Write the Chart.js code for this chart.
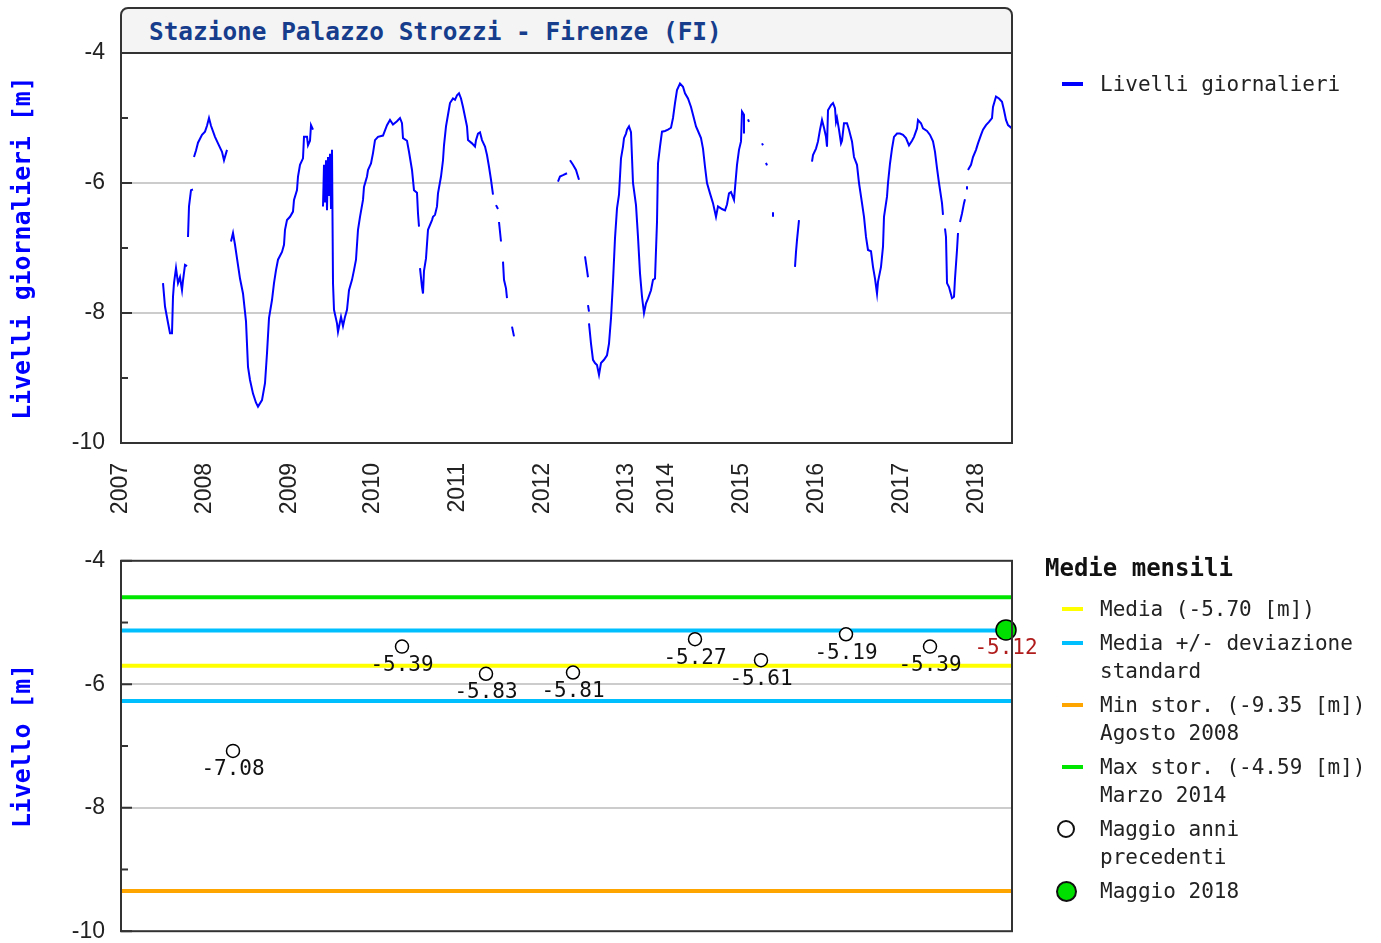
<!DOCTYPE html>
<html lang="it">
<head>
<meta charset="UTF-8">
<title>Stazione Palazzo Strozzi - Firenze (FI)</title>
<script src="https://cdn.jsdelivr.net/npm/chart.js"></script>
<style>
  body { margin: 0; background: #fff; }
  .page { position: relative; width: 1381px; height: 943px; overflow: hidden; background: #fff; }
  canvas { position: absolute; left: 0; }
  #top-chart { top: 0; }
  #month-chart { top: 531px; }
  .title-box {
    position: absolute; left: 120px; top: 7px; width: 893px; height: 47px;
    box-sizing: border-box; border: 2px solid #333; border-radius: 8px 8px 0 0;
    background: #f4f4f4; padding-left: 27px;
    font: bold 24.4px "DejaVu Sans Mono", monospace; color: #163c8c; line-height: 46px;
  }
  .leg-text { position: absolute; font: 21px "DejaVu Sans Mono", monospace; color: #222; line-height: 28px; white-space: pre; }
  .leg-head { position: absolute; font: bold 24px "DejaVu Sans Mono", monospace; color: #111; line-height: 28px; }
  .sw { position: absolute; }
</style>
</head>
<body>
<div class="page" id="page">
  <canvas id="top-chart" width="1381" height="530"></canvas>
  <canvas id="month-chart" width="1381" height="430"></canvas>
  <div class="title-box">Stazione Palazzo Strozzi - Firenze (FI)</div>
</div>
<script>
// asse x: indice delle registrazioni, anno di inizio di ogni blocco
const yearLabels = ['2007', '2008', '2009', '2010', '2011', '2012', '2013', '2014', '2015', '2016', '2017', '2018'];
const yearStartIdx = [0, 84, 169, 252, 337, 422, 506, 546, 621, 696, 781, 856];
const lastIdx = 891;

// livelli giornalieri [indice, livello m]; null = dato mancante
const dailyLevels = [
  [42,-7.54],[44,-7.90],[47,-8.15],[49,-8.31],[51,-8.31],[52,-7.75],[53,-7.54],[55,-7.31],[57,-7.54],[59,-7.45],
  [61,-7.65],[62,-7.50],[64,-7.26],[66,-7.28],[66,null],
  [67,-6.83],[68,-6.36],[70,-6.11],[72,-6.10],[72,null],
  [73,-5.60],[75,-5.50],[77,-5.38],[81,-5.26],[84,-5.21],[86,-5.12],[88,-5.00],[90,-5.12],[94,-5.29],[97,-5.39],
  [101,-5.52],[103,-5.65],[106,-5.49],[106,null],
  [110,-6.90],[112,-6.77],[114,-6.95],[116,-7.16],[119,-7.47],[122,-7.70],[125,-8.13],[127,-8.83],[129,-9.03],
  [132,-9.24],[135,-9.38],[137,-9.44],[141,-9.34],[144,-9.08],[146,-8.62],[148,-8.08],[151,-7.80],[153,-7.54],
  [155,-7.34],[157,-7.18],[161,-7.06],[163,-6.95],[164,-6.72],[166,-6.57],[169,-6.52],[172,-6.44],[173,-6.26],
  [176,-6.11],[177,-5.90],[179,-5.72],[182,-5.62],[183,-5.29],[186,-5.29],[187,-5.42],[189,-5.35],[190,-5.11],
  [192,-5.18],[192,null],
  [202,-6.36],[203,-5.72],[204,-6.30],[205,-5.65],[206,-6.42],[207,-5.60],[208,-6.20],[209,-5.55],[210,-6.40],
  [211,-5.49],[212,-7.54],[213,-7.95],[216,-8.16],[217,-8.29],[220,-8.06],[222,-8.20],[224,-8.06],[226,-7.95],
  [228,-7.65],[231,-7.49],[233,-7.34],[235,-7.18],[237,-6.72],[239,-6.52],[242,-6.26],[243,-6.06],[246,-5.90],
  [247,-5.80],[250,-5.70],[252,-5.54],[254,-5.34],[257,-5.29],[262,-5.27],[266,-5.11],[269,-5.03],[272,-5.10],
  [276,-5.05],[279,-5.00],[281,-5.08],[282,-5.31],[286,-5.35],[288,-5.52],[291,-5.80],[293,-6.11],[296,-6.15],
  [297,-6.47],[298,-6.67],[298,null],
  [299,-7.31],[301,-7.60],[302,-7.70],[303,-7.35],[305,-7.16],[307,-6.72],[311,-6.57],[312,-6.52],[314,-6.49],
  [316,-6.36],[317,-6.16],[320,-5.90],[322,-5.65],[323,-5.42],[325,-5.13],[327,-4.95],[329,-4.77],[332,-4.70],
  [334,-4.72],[336,-4.65],[338,-4.62],[340,-4.70],[342,-4.83],[344,-4.98],[346,-5.13],[347,-5.34],[351,-5.39],
  [354,-5.44],[355,-5.34],[357,-5.24],[359,-5.22],[361,-5.34],[364,-5.44],[366,-5.57],[368,-5.75],[370,-5.95],
  [372,-6.18],[372,null],
  [375,-6.34],[377,-6.40],[377,null],
  [378,-6.60],[380,-6.90],[380,null],
  [382,-7.21],[383,-7.49],[385,-7.62],[386,-7.77],[386,null],
  [391,-8.21],[393,-8.36],[393,null],
  [437,-5.98],[439,-5.90],[442,-5.88],[446,-5.85],[446,null],
  [449,-5.65],[452,-5.72],[455,-5.80],[457,-5.90],[458,-5.95],[458,null],
  [464,-7.13],[466,-7.34],[467,-7.45],[467,null],
  [467,-7.88],[468,-7.98],[468,null],
  [468,-8.16],[470,-8.47],[472,-8.72],[474,-8.77],[476,-8.80],[478,-8.95],[480,-8.77],[483,-8.72],[486,-8.65],
  [488,-8.47],[490,-8.08],[492,-7.52],[494,-6.85],[496,-6.39],[498,-6.18],[500,-5.62],[502,-5.44],[503,-5.31],
  [505,-5.24],[506,-5.18],[508,-5.13],[510,-5.22],[512,-6.00],[515,-6.34],[517,-6.83],[519,-7.39],[521,-7.75],
  [523,-8.00],[525,-7.85],[527,-7.78],[530,-7.65],[532,-7.49],[534,-7.47],[536,-6.60],[537,-5.70],[539,-5.44],
  [541,-5.21],[544,-5.20],[547,-5.18],[550,-5.15],[552,-5.00],[554,-4.77],[556,-4.57],[559,-4.47],[562,-4.52],
  [564,-4.62],[567,-4.70],[570,-4.83],[572,-4.95],[575,-5.13],[577,-5.20],[580,-5.31],[582,-5.47],[584,-5.75],
  [586,-6.00],[589,-6.16],[592,-6.31],[595,-6.52],[597,-6.36],[601,-6.40],[604,-6.42],[606,-6.33],[608,-6.16],
  [610,-6.14],[613,-6.26],[615,-5.90],[616,-5.72],[618,-5.49],[620,-5.36],[621,-4.90],[623,-4.95],[623,-5.24],
  [623,null],
  [627,-5.02],[628,-5.06],[628,null],
  [641,-5.39],[642,-5.42],[642,null],
  [645,-5.69],[646,-5.73],[646,null],
  [652,-6.45],[652,-6.52],[652,null],
  [674,-7.29],[675,-7.06],[676,-6.88],[678,-6.57],[678,null],
  [691,-5.67],[692,-5.57],[695,-5.47],[697,-5.36],[699,-5.18],[701,-5.03],[703,-5.15],[705,-5.29],[706,-5.44],
  [707,-4.88],[710,-4.80],[712,-4.77],[714,-4.85],[715,-5.06],[716,-5.00],[718,-5.18],[720,-5.39],[721,-5.35],
  [723,-5.08],[726,-5.08],[728,-5.18],[731,-5.36],[733,-5.60],[736,-5.72],[738,-6.00],[741,-6.31],[743,-6.52],
  [745,-6.83],[747,-7.03],[750,-7.05],[752,-7.29],[754,-7.47],[756,-7.70],[757,-7.52],[760,-7.29],[762,-6.98],
  [763,-6.52],[766,-6.21],[767,-6.00],[769,-5.70],[771,-5.47],[773,-5.29],[776,-5.24],[779,-5.24],[782,-5.26],
  [785,-5.31],[788,-5.42],[791,-5.35],[793,-5.29],[796,-5.16],[797,-5.03],[800,-5.08],[802,-5.16],[806,-5.20],
  [809,-5.26],[812,-5.36],[814,-5.52],[816,-5.77],[818,-6.00],[821,-6.31],[822,-6.49],[822,null],
  [824,-6.70],[825,-6.83],[826,-7.54],[828,-7.60],[831,-7.77],[833,-7.75],[834,-7.47],[836,-7.03],[837,-6.77],
  [837,null],
  [839,-6.60],[841,-6.47],[843,-6.31],[844,-6.25],[844,null],
  [846,-6.05],[846,-6.10],[846,null],
  [847,-5.80],[850,-5.72],[852,-5.60],[855,-5.49],[857,-5.39],[860,-5.26],[862,-5.18],[865,-5.11],[868,-5.06],
  [871,-5.00],[872,-4.83],[875,-4.67],[878,-4.70],[881,-4.75],[883,-4.88],[885,-5.03],[887,-5.11],[891,-5.16]
];

// medie mensili di maggio
const mayIdx = [112, 281, 365, 452, 574, 640, 725, 809];
const mayLevels = [-7.08, -5.39, -5.83, -5.81, -5.27, -5.61, -5.19, -5.39];
const currentIdx = 885;
const currentLevel = -5.12;
const meanLevel = -5.70;
const stdDev = 0.57;
const minLevel = -9.35;
const minLabel = 'Agosto 2008';
const maxLevel = -4.59;
const maxLabel = 'Marzo 2014';

const tickFont = { family: "'Liberation Sans', Arial, sans-serif", size: 23 };
const monoTitle = { family: "'DejaVu Sans Mono', monospace", size: 24.8, weight: 'bold' };

// cornice e tacche interne sull'asse y
const frame = {
  id: 'frame',
  afterDraw(chart) {
    const { ctx, chartArea: a } = chart;
    const y = chart.scales.y;
    ctx.save();
    ctx.strokeStyle = '#333';
    ctx.lineWidth = 2;
    ctx.strokeRect(a.left, a.top, a.right - a.left, a.bottom - a.top);
    for (let v = -4; v >= -10; v--) {
      const py = y.getPixelForValue(v);
      const len = v % 2 === 0 ? 11 : 7;
      ctx.beginPath();
      ctx.moveTo(a.left, py);
      ctx.lineTo(a.left + len, py);
      ctx.stroke();
    }
    ctx.restore();
  }
};

const pointLabels = {
  id: 'pointLabels',
  afterDatasetsDraw(chart) {
    const ctx = chart.ctx;
    chart.data.datasets.forEach((ds, i) => {
      if (!ds.labelColor) return;
      chart.getDatasetMeta(i).data.forEach((pt, j) => {
        ctx.save();
        ctx.font = "21px 'DejaVu Sans Mono', monospace";
        ctx.fillStyle = ds.labelColor;
        ctx.textAlign = 'center';
        ctx.textBaseline = 'middle';
        ctx.fillText(ds.data[j].y.toFixed(2), pt.x, pt.y + 19);
        ctx.restore();
      });
    });
  }
};

const yAxis = (title) => ({
  min: -10, max: -4,
  ticks: { stepSize: 1, callback: v => (v % 2 === 0 ? String(v) : ''), color: '#222', font: tickFont, padding: 16 },
  grid: { color: c => (c.tick && (c.tick.value === -6 || c.tick.value === -8) ? '#cccccc' : 'rgba(0,0,0,0)'), lineWidth: 2, drawTicks: false },
  border: { display: false },
  title: { display: true, text: title, color: '#0000ff', font: monoTitle, padding: { top: 9, bottom: 0 } },
  afterFit: s => { s.width = 121; }
});

new Chart(document.getElementById('top-chart'), {
  type: 'line',
  data: {
    datasets: [{
      label: 'Livelli giornalieri',
      data: dailyLevels.map(([x, y]) => ({ x, y })),
      borderColor: '#0000ff',
      borderWidth: 2,
      pointRadius: 0,
      spanGaps: false,
      tension: 0
    }]
  },
  options: {
    responsive: false,
    animation: false,
    devicePixelRatio: 1,
    layout: { padding: { top: 53, right: 369, left: 0, bottom: 0 } },
    plugins: { legend: { display: false }, tooltip: { enabled: false } },
    scales: {
      x: {
        type: 'linear', min: 0, max: lastIdx,
        afterBuildTicks: s => { s.ticks = yearStartIdx.map(v => ({ value: v })); },
        ticks: { callback: (v, i) => yearLabels[i], minRotation: 90, maxRotation: 90, autoSkip: false, padding: 12, color: '#222', font: tickFont },
        grid: { display: false },
        border: { display: false },
        afterFit: s => { s.height = 530 - 443; }
      },
      y: yAxis('Livelli giornalieri [m]')
    }
  },
  plugins: [frame]
});

const levelLine = (val, color) => ({
  data: [{ x: 0, y: val }, { x: lastIdx, y: val }],
  showLine: true, borderColor: color, borderWidth: 4, pointRadius: 0, order: 2
});

new Chart(document.getElementById('month-chart'), {
  type: 'scatter',
  data: {
    datasets: [
      {
        data: mayIdx.map((x, i) => ({ x, y: mayLevels[i] })),
        pointRadius: 6.5, pointBorderWidth: 1.5, pointBorderColor: '#000', pointBackgroundColor: '#fff',
        labelColor: '#111', order: 0
      },
      {
        data: [{ x: currentIdx, y: currentLevel }],
        pointRadius: 10, pointBorderWidth: 1.5, pointBorderColor: '#000', pointBackgroundColor: '#00e000',
        labelColor: '#b01c1c', order: 0, clip: false
      },
      levelLine(maxLevel, '#00e600'),
      levelLine(meanLevel + stdDev, '#00bfff'),
      levelLine(meanLevel, '#ffff00'),
      levelLine(meanLevel - stdDev, '#00bfff'),
      levelLine(minLevel, '#ffa500')
    ]
  },
  options: {
    responsive: false,
    animation: false,
    devicePixelRatio: 1,
    layout: { padding: { top: 14, right: 369, left: 0, bottom: 12 } },
    plugins: { legend: { display: false }, tooltip: { enabled: false } },
    scales: {
      x: { type: 'linear', min: 0, max: lastIdx, display: false },
      y: yAxis('Livello [m]')
    }
  },
  plugins: [frame, pointLabels]
});

// legende
const page = document.getElementById('page');
function add(cls, css, text) {
  const el = document.createElement('div');
  el.className = cls;
  Object.assign(el.style, css);
  if (text) el.textContent = text;
  page.appendChild(el);
  return el;
}

add('sw', { left: '1062px', top: '82px', width: '21px', height: '4px', background: '#0000ff' });
add('leg-text', { left: '1100px', top: '70px' }, 'Livelli giornalieri');

add('leg-head', { left: '1045px', top: '554px' }, 'Medie mensili');
const legendItems = [
  { kind: 'line', color: '#ffff00', lines: ['Media (' + meanLevel.toFixed(2) + ' [m])'] },
  { kind: 'line', color: '#00bfff', lines: ['Media +/- deviazione', 'standard'] },
  { kind: 'line', color: '#ffa500', lines: ['Min stor. (' + minLevel.toFixed(2) + ' [m])', minLabel] },
  { kind: 'line', color: '#00e600', lines: ['Max stor. (' + maxLevel.toFixed(2) + ' [m])', maxLabel] },
  { kind: 'open', lines: ['Maggio anni', 'precedenti'] },
  { kind: 'dot', lines: ['Maggio 2018'] }
];
let legendTop = 595;
legendItems.forEach(item => {
  const cy = legendTop + 14;
  if (item.kind === 'line') {
    add('sw', { left: '1062px', top: (cy - 2) + 'px', width: '21px', height: '4px', background: item.color });
  } else if (item.kind === 'open') {
    add('sw', { left: '1057px', top: (cy - 9) + 'px', width: '14px', height: '14px', border: '2px solid #111', borderRadius: '50%', background: '#fff' });
  } else {
    add('sw', { left: '1056px', top: (cy - 10) + 'px', width: '17px', height: '17px', border: '2px solid #111', borderRadius: '50%', background: '#00e000' });
  }
  add('leg-text', { left: '1100px', top: legendTop + 'px' }, item.lines.join('\n'));
  legendTop += item.lines.length * 28 + 6;
});
</script>
</body>
</html>
